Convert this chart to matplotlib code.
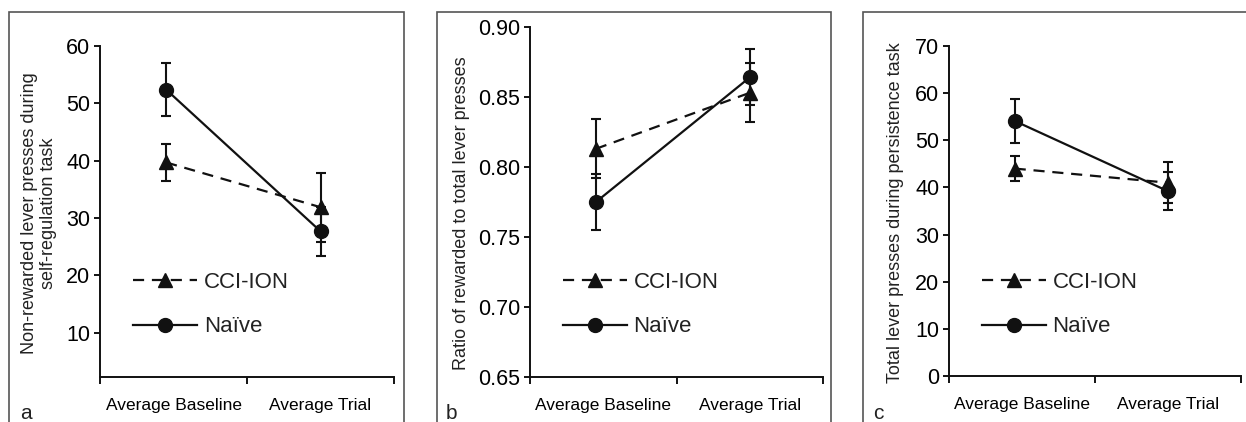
import matplotlib
matplotlib.use('Agg')
import matplotlib.pyplot as plt
from matplotlib.patches import Rectangle
from matplotlib.lines import Line2D

plt.rcParams['font.family'] = ['Liberation Sans', 'DejaVu Sans']
plt.rcParams['text.color'] = '#222222'
plt.rcParams['axes.labelcolor'] = '#222222'

categories = ['Average Baseline', 'Average Trial']
cat_x = [0.45, 1.5]

# panel a: non-rewarded lever presses
a_cci = [39.7, 31.9]
a_cci_err = [3.3, 6.0]
a_naive = [52.4, 27.7]
a_naive_err = [4.6, 4.3]

# panel b: ratio rewarded / total
b_cci = [0.813, 0.853]
b_cci_err = [0.021, 0.021]
b_naive = [0.775, 0.864]
b_naive_err = [0.020, 0.020]

# panel c: total lever presses
c_cci = [44.0, 41.0]
c_cci_err = [2.7, 4.3]
c_naive = [54.1, 39.2]
c_naive_err = [4.7, 4.0]

W, H = 1246, 422
fig = plt.figure(figsize=(W / 100, H / 100), dpi=100)

DASH = (0, (5, 3.5))
panels = [
    dict(rect=(100, 46, 394, 377), cci=a_cci, ce=a_cci_err, naive=a_naive, ne=a_naive_err,
         ylim=(2.3, 60), yticks=[10, 20, 30, 40, 50, 60], fmt='{:.0f}',
         ylabel='Non-rewarded lever presses during\nself-regulation task', ylx=39,
         box=(9, 404), letter='a', lx=20),
    dict(rect=(530, 27, 823, 377), cci=b_cci, ce=b_cci_err, naive=b_naive, ne=b_naive_err,
         ylim=(0.65, 0.90), yticks=[0.65, 0.70, 0.75, 0.80, 0.85, 0.90], fmt='{:.2f}',
         ylabel='Ratio of rewarded to total lever presses', ylx=461,
         box=(437, 831), letter='b', lx=446),
    dict(rect=(949, 46, 1241, 376), cci=c_cci, ce=c_cci_err, naive=c_naive, ne=c_naive_err,
         ylim=(0, 70), yticks=[0, 10, 20, 30, 40, 50, 60, 70], fmt='{:.0f}',
         ylabel='Total lever presses during persistence task', ylx=896,
         box=(863, 1262), letter='c', lx=873),
]

for p in panels:
    x0, y0, x1, y1 = p['rect']
    ax = fig.add_axes([x0 / W, 1 - y1 / H, (x1 - x0) / W, (y1 - y0) / H])

    ax.errorbar(cat_x, p['cci'], yerr=p['ce'], color='#111111', lw=1.6,
                ls=DASH, marker='^', ms=9.5, elinewidth=1.5,
                capsize=3.5, capthick=1.5, zorder=3)
    ax.errorbar(cat_x, p['naive'], yerr=p['ne'], color='#111111', lw=1.6,
                ls='-', marker='o', ms=10, elinewidth=1.5,
                capsize=3.5, capthick=1.5, zorder=4)

    ax.set_xlim(0, 2)
    ax.set_ylim(*p['ylim'])
    ax.set_yticks(p['yticks'])
    ax.set_yticklabels([p['fmt'].format(v) for v in p['yticks']], fontsize=15.5)
    ax.set_xticks([0, 1, 2])
    ax.set_xticklabels([])
    ax.set_xticks([0.5, 1.5], minor=True)
    ax.set_xticklabels(categories, minor=True, fontsize=12.5)
    ax.tick_params(axis='x', which='minor', length=0, pad=15)
    ax.tick_params(axis='x', which='major', length=5, width=1.3, direction='out')
    ax.tick_params(axis='y', length=4, width=1.3, direction='out', pad=3)

    for s in ['top', 'right']:
        ax.spines[s].set_visible(False)
    for s in ['left', 'bottom']:
        ax.spines[s].set_linewidth(1.4)
        ax.spines[s].set_color('#111111')
    ax.patch.set_alpha(0)

    handles = [
        Line2D([], [], color='#111111', lw=1.6, ls=DASH, marker='^', ms=9.5),
        Line2D([], [], color='#111111', lw=1.6, ls='-', marker='o', ms=10),
    ]
    lx = (133 - 100) / 294
    ly = (y1 - 304.5) / (y1 - y0)
    ax.legend(handles, ['CCI-ION', 'Na\u00efve'], loc='center left',
              bbox_to_anchor=(lx, ly), frameon=False, fontsize=16,
              handlelength=2.9, handletextpad=0.28, labelspacing=1.08,
              borderpad=0, borderaxespad=0)

    fig.text(p['ylx'] / W, 1 - 213 / H, p['ylabel'], rotation=90,
             ha='center', va='center', fontsize=13, linespacing=1.1)

    bx0, bx1 = p['box']
    fig.patches.append(Rectangle((bx0 / W, -0.05), (bx1 - bx0) / W, 1.05 - 12 / H,
                                 transform=fig.transFigure, fill=False,
                                 edgecolor='#555555', lw=1.2))
    fig.text(p['lx'] / W, 1 - 419 / H, p['letter'], fontsize=15,
             ha='left', va='baseline')

fig.savefig('out.png', dpi=100)
